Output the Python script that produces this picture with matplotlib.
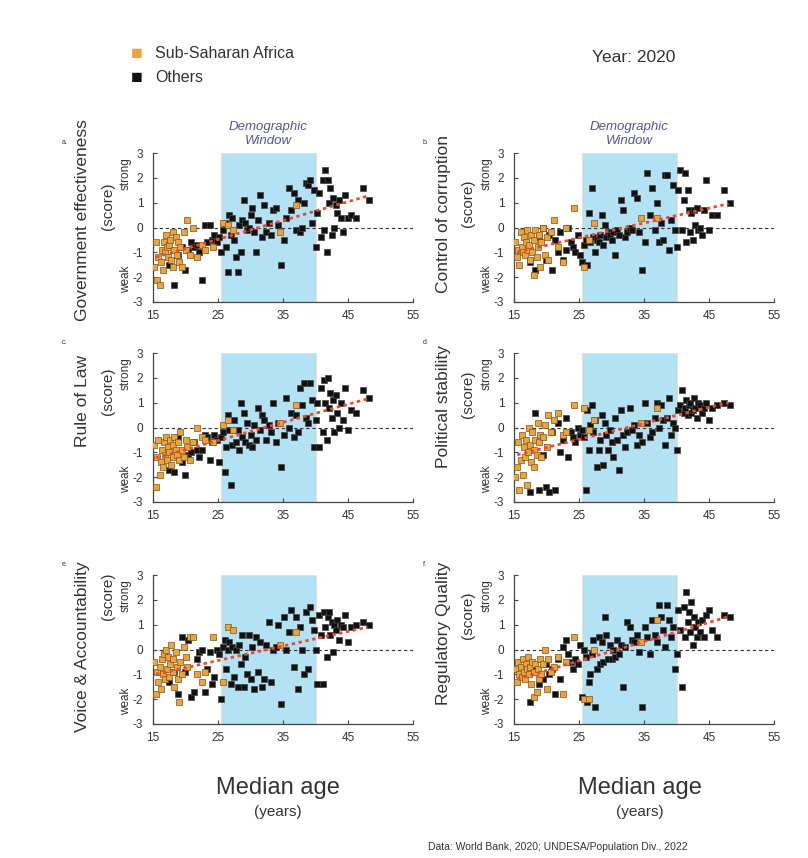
import numpy as np
import matplotlib
matplotlib.use("Agg")
import matplotlib.pyplot as plt

plt.rcParams["font.family"] = ["Liberation Sans", "DejaVu Sans"]
plt.rcParams["axes.unicode_minus"] = False

# ---- data (approximate) ----
AGE_SSA = [15.1, 15.5, 15.6, 15.8, 16.0, 16.2, 16.4, 16.5, 16.7, 16.8, 17.0, 17.1, 17.3,
           17.5, 17.6, 17.8, 18.0, 18.1, 18.3, 18.5, 18.7, 18.9, 19.0, 19.2, 19.5, 19.8,
           20.0, 20.3, 20.7, 21.2, 21.8, 22.5, 23.0, 24.3, 25.8, 26.5, 27.3, 34.5, 37.0]

AGE_OTHERS = [17.5, 18.2, 18.9, 19.4, 19.9, 20.4, 20.9, 21.3, 21.7, 22.1, 22.6, 23.0, 23.3,
              23.7, 24.0, 24.4, 24.8, 25.1, 25.4, 25.7, 26.0, 26.2, 26.5, 26.7, 27.0, 27.2,
              27.5, 27.7, 28.0, 28.2, 28.5, 28.7, 29.0, 29.2, 29.5, 29.8, 30.0, 30.3, 30.6,
              30.9, 31.2, 31.5, 31.8, 32.1, 32.4, 32.8, 33.1, 33.5, 33.9, 34.3, 34.7, 35.1,
              35.5, 35.9, 36.3, 36.7, 37.0, 37.3, 37.6, 37.9, 38.2, 38.5, 38.8, 39.1, 39.4,
              39.7, 40.0, 40.3, 40.6, 40.9, 41.1, 41.3, 41.5, 41.7, 41.9, 42.1, 42.3, 42.5,
              42.7, 42.9, 43.1, 43.3, 43.6, 43.9, 44.2, 44.6, 45.0, 45.5, 46.3, 47.3, 48.2]

GOV_SSA = [-1.6, -0.6, -2.1, -1.2, -2.3, -1.4, -0.9, -1.7, -0.6, -1.0, -0.3, -0.8, -1.2,
           -0.7, -0.5, -1.3, -0.2, -1.6, -0.9, -0.4, -1.1, -0.6, -1.4, -0.8, -1.6, -0.2,
           -0.9, 0.3, -1.1, 0.0, -1.2, -0.7, -0.9, -0.8, 0.2, 0.1, -0.1, -0.2, 0.9]
GOV_OTHERS = [-1.5, -2.3, -1.1, -0.8, -1.7, -0.9, -0.6, -0.8, -0.7, -1.0, -2.1, 0.1, -0.6,
              0.1, -0.5, -0.3, -0.6, -0.4, -1.0, -0.1, 0.2, -0.8, -1.8, 0.5, -0.3, 0.4,
              -0.5, -1.2, -1.8, 0.1, -1.0, 0.3, 1.1, 0.2, -0.1, 0.0, 0.5, 0.8, -0.2,
              -1.0, 0.3, 1.3, -0.4, 0.9, -0.2, 0.2, -0.3, 0.7, 0.8, 0.1, -1.5, -0.5,
              0.4, 1.6, 0.7, 1.4, -0.1, 1.1, -0.2, 0.0, 1.0, 1.8, 1.7, 1.9, 0.2,
              1.5, -0.8, 0.6, 1.4, -0.4, 1.9, -0.1, 2.3, -1.0, 1.9, 1.0, 1.6, -0.3,
              1.2, 0.0, 0.9, 0.6, 1.1, 0.4, -0.2, 1.3, 0.4, 0.5, 0.4, 1.6, 1.1]

COR_SSA = [-0.6, -1.2, -0.9, -1.5, -0.2, -0.8, -1.0, -0.4, -1.1, -0.6, -0.1, -0.9, -0.7,
           -1.3, -0.3, -1.0, -1.9, -0.5, -0.1, -1.2, -0.8, -0.3, -1.6, -0.6, 0.0, -1.1,
           -0.4, -1.3, -0.2, 0.3, -0.8, -1.4, 0.0, 0.8, -1.6, -0.5, 0.2, 0.4, 0.4]
COR_OTHERS = [-1.4, -1.7, -0.4, 0.0, -1.3, -0.3, -1.7, -0.5, -1.0, -0.2, -1.3, -0.9, 0.0,
              -0.6, -0.8, -1.0, -0.3, -1.1, -1.4, -0.7, -0.5, -1.5, 0.6, -0.6, 1.6, -0.4,
              -1.0, -0.5, -0.6, -0.3, 0.5, -0.7, 0.1, -0.4, -0.2, -0.3, -0.5, -0.2, -1.1,
              -0.1, -0.3, 1.1, 0.7, -0.4, -0.2, 0.0, -0.1, 1.4, 1.2, -0.2, -1.7, -0.6,
              2.2, 0.5, 1.6, -0.1, 1.0, -0.6, 0.2, -0.5, 2.1, 2.1, -0.9, 0.3, 1.7,
              -0.1, -0.8, 1.5, 2.3, -0.1, 1.1, 2.2, -0.6, 1.5, 0.7, -0.2, 0.6, -0.5,
              0.7, 0.1, 0.8, -0.1, 0.0, -0.3, 0.7, 1.9, -0.1, 0.5, 0.5, 1.5, 1.0]

LAW_SSA = [-0.7, -2.4, -1.2, -0.5, -1.9, -1.4, -0.9, -1.6, -0.6, -1.1, -0.4, -1.3, -0.8,
           -1.0, -0.5, -1.5, -0.7, -1.2, -0.4, -0.9, -1.1, -0.6, -1.3, -0.2, -0.9, -1.2,
           -0.5, -0.8, -1.3, -0.6, 0.0, -0.4, -0.5, -0.6, 0.1, 0.3, -0.1, 0.2, 0.9]
LAW_OTHERS = [-1.7, -1.8, -0.4, -1.4, -1.9, -1.1, -1.0, -0.6, -0.9, -1.2, -0.9, -0.3, -0.4,
              -1.3, -0.6, -0.3, -0.5, -1.4, -0.4, -0.2, -1.8, -0.8, 0.5, -0.1, -2.3, -0.7,
              0.3, -0.6, -0.1, -0.9, 1.0, -0.4, 0.6, -0.6, 0.2, -0.7, -0.3, -0.8, 0.1,
              -0.5, 0.8, -0.1, 0.5, 0.3, -0.5, 0.1, -0.2, 1.0, -0.6, 0.2, -1.6, -0.3,
              1.2, 0.0, 0.6, -0.4, 0.5, -0.2, 1.6, 0.9, 1.8, 0.4, 0.2, 1.8, 1.1,
              -0.8, 0.3, 1.0, -0.8, 1.6, -0.2, 1.9, 1.0, -0.5, 2.0, 0.8, 1.4, 0.4,
              1.1, -0.2, 1.3, 0.6, 0.0, 1.0, 0.3, 1.6, -0.1, 0.7, 0.6, 1.5, 1.2]

STAB_SSA = [-2.0, -1.6, -0.6, -2.5, -1.3, -0.3, -1.9, -0.8, -1.2, -0.5, -2.3, -1.0, 0.0,
            -0.7, -1.4, -0.2, -0.9, -1.6, -0.5, -1.1, 0.2, -0.6, -0.3, -1.2, -0.4, 0.1,
            -0.8, 0.5, -0.2, 0.3, 0.6, -0.3, -0.2, 0.9, 0.8, -0.1, 0.3, 0.2, 0.8]
STAB_OTHERS = [-2.6, 0.6, -2.5, -1.1, -2.4, -2.6, -0.2, -2.5, 0.2, -1.0, -0.5, 0.4, -1.2,
               -0.2, -0.4, -0.6, 0.0, -0.3, -0.1, -0.4, -2.5, 0.7, -0.9, 0.1, 0.9, -0.2,
               0.3, -1.6, -0.9, -0.5, 0.5, -1.5, 0.2, -0.3, -0.9, -0.1, -0.6, -1.2, 0.4,
               -0.5, -1.7, 0.7, -0.3, -0.8, -0.2, 0.8, -0.1, 0.1, -0.7, -0.3, -0.6, 1.0,
               0.2, -0.4, -0.2, 0.4, 1.0, 0.0, 0.9, 0.3, -0.7, 0.4, 1.2, -0.3, 0.2,
               0.0, -0.9, 0.7, 0.9, 1.5, 0.6, 0.8, 1.1, 0.5, 0.9, 1.0, 0.6, 0.7,
               1.2, 0.8, 0.4, 1.0, 0.9, 0.6, 0.8, 1.0, 0.3, 0.8, 0.9, 1.0, 0.9]

VOICE_SSA = [-0.5, -1.8, -0.9, -1.3, -0.7, -1.6, -0.4, -1.0, -0.2, -1.2, 0.0, -0.8, -0.3,
             -1.1, -0.6, 0.2, -0.9, -0.4, -1.5, -0.1, -0.7, -1.2, -2.1, -0.5, -1.0, 0.1,
             -0.3, -0.7, 0.5, 0.5, -1.0, -1.3, -0.9, 0.5, -1.3, 0.9, 0.8, 0.2, 0.7]
VOICE_OTHERS = [-1.3, -0.9, -1.8, 0.5, -0.9, 0.4, -1.9, -1.7, -0.4, -0.1, 0.0, -1.7, -0.8,
                -0.1, -1.4, -1.1, 0.0, -0.2, -2.0, 0.1, 0.4, -0.8, 0.0, 0.3, -1.4, 0.1,
                -1.1, 0.0, -1.5, 0.2, -0.6, 0.6, -1.5, -0.3, -1.0, 0.6, -1.2, 0.1, -1.6,
                0.5, -0.9, 0.3, -1.5, -1.2, 0.2, 1.1, -1.3, 0.0, 0.1, 1.0, -2.2, 1.3,
                0.0, 0.7, 1.6, -0.7, 1.3, -1.6, 0.9, 0.0, -1.0, 1.5, -0.8, 1.7, 1.2,
                0.8, 0.0, -1.4, 1.4, 0.6, -1.4, 1.5, 0.9, -0.3, 1.3, 1.5, 0.6, 1.1,
                -0.1, 1.0, 0.8, 1.2, 0.4, 1.0, 0.9, 1.4, 0.3, 0.9, 1.0, 1.1, 1.0]

REG_SSA = [-0.8, -1.3, -0.5, -1.0, -0.7, -1.1, -0.4, -0.9, -1.2, -0.6, -0.8, -0.3, -1.0,
           -0.7, -1.4, -0.5, -1.9, -0.9, -0.6, -1.7, -0.8, -1.2, -0.4, -1.0, -0.6, 0.0,
           -1.6, -0.4, -0.9, -0.7, -0.3, -1.8, -0.5, 0.5, -2.0, -2.0, 0.0, 0.3, 1.2]
REG_OTHERS = [-2.1, -0.8, -1.4, -1.2, -0.6, -1.0, -0.8, -1.8, -0.4, -1.2, 0.1, 0.4, -0.2,
              -0.5, -0.8, -0.4, -0.6, 0.2, -1.9, 0.0, -0.3, -2.1, -1.3, -1.0, -0.2, 0.4,
              -2.3, -0.8, 0.5, -0.6, 0.3, -0.5, 1.3, 0.6, -0.4, 0.2, -0.4, 0.0, -0.3,
              0.4, -0.2, 0.2, -1.5, 0.1, 1.1, 0.9, 0.4, 0.3, 0.6, -0.1, -2.3, 0.9,
              0.5, -0.2, 1.2, 0.6, 0.3, 1.8, 1.3, 0.8, 0.1, 1.8, 1.2, 0.5, 0.9,
              -0.8, -0.2, 1.6, 0.8, -1.5, 1.7, 0.5, 2.3, 1.1, 1.5, 0.7, 1.9, 0.2,
              1.3, 0.9, 0.5, 1.1, 0.7, 1.2, 0.5, 1.4, 1.6, 0.8, 0.5, 1.4, 1.3]

# (letter, y-label, ssa scores, other scores, label centre, "(score)" centre) per panel
PANELS = [
    ("a.", "Government effectiveness", GOV_SSA, GOV_OTHERS, 0.55, 0.64),
    ("b.", "Control of corruption", COR_SSA, COR_OTHERS, 0.59, 0.66),
    ("c.", "Rule of Law", LAW_SSA, LAW_OTHERS, 0.68, 0.74),
    ("d.", "Political stability", STAB_SSA, STAB_OTHERS, 0.64, 0.72),
    ("e.", "Voice & Accountability", VOICE_SSA, VOICE_OTHERS, 0.52, 0.86),
    ("f.", "Regulatory Quality", REG_SSA, REG_OTHERS, 0.61, 0.73),
]

WINDOW = (25.5, 40.0)
SSA_COLOR = "#eda33a"
OTHER_COLOR = "#111111"
TEXT_COLOR = "#333333"

W, H = 808, 858
fig = plt.figure(figsize=(W / 100, H / 100), dpi=100)
fig.patch.set_facecolor("white")

col_left = [153, 514]
row_bottom = [302, 502, 724]
ax_w, ax_h = 260, 149

for i, (letter, label, ssa, others, lab_y, score_y) in enumerate(PANELS):
    r, c = divmod(i, 2)
    left = col_left[c]
    bottom = row_bottom[r]
    ax = fig.add_axes([left / W, (H - bottom) / H, ax_w / W, ax_h / H])

    ax.axvspan(*WINDOW, color="#b3e2f4", ec="#f2dcc6", lw=0.6, zorder=0)
    ax.axhline(0, color="#333333", ls=(0, (3, 2.5)), lw=0.8, zorder=1)

    ax.scatter(AGE_OTHERS, others, marker="s", s=19, c=OTHER_COLOR,
               edgecolors="#444444", linewidths=0.5, zorder=2)
    ax.scatter(AGE_SSA, ssa, marker="s", s=19, c=SSA_COLOR,
               edgecolors="#7a5520", linewidths=0.5, zorder=3)

    # linear trend over all countries
    ages = np.array(AGE_SSA + AGE_OTHERS)
    scores = np.array(ssa + others)
    k, b = np.polyfit(ages, scores, 1)
    xs = np.array([15.5, 48.0])
    ax.plot(xs, k * xs + b, color="#f0482a", lw=2.0, ls=(0, (1.2, 1.3)), zorder=4)

    ax.set_xlim(15, 55)
    ax.set_ylim(-3, 3)
    ax.set_xticks([15, 25, 35, 45, 55])
    ax.set_yticks([-3, -2, -1, 0, 1, 2, 3])
    ax.tick_params(direction="in", length=3, width=0.8, colors="#444444",
                   labelsize=8.5, labelcolor=TEXT_COLOR)
    ax.tick_params(axis="x", pad=6)
    ax.tick_params(axis="y", pad=7)
    for side in ("top", "right"):
        ax.spines[side].set_visible(False)
    for side in ("left", "bottom"):
        ax.spines[side].set_color("#444444")
        ax.spines[side].set_linewidth(0.9)

    ax.text(-0.27, lab_y, label, transform=ax.transAxes, rotation=90,
            ha="center", va="center", fontsize=12.5, color=TEXT_COLOR)
    ax.text(-0.175, score_y, "(score)", transform=ax.transAxes, rotation=90,
            ha="center", va="center", fontsize=11, color=TEXT_COLOR)
    ax.text(-0.105, 0.86, "strong", transform=ax.transAxes, rotation=90,
            ha="center", va="center", fontsize=8.5, color=TEXT_COLOR)
    ax.text(-0.105, 0.15, "weak", transform=ax.transAxes, rotation=90,
            ha="center", va="center", fontsize=8.5, color=TEXT_COLOR)
    ax.text(-0.35, 1.07, letter, transform=ax.transAxes,
            ha="left", va="center", fontsize=5, color=TEXT_COLOR)

    if r == 0:
        ax.text(sum(WINDOW) / 2, 3.25, "Demographic\nWindow", ha="center", va="bottom",
                fontsize=9.5, style="italic", color="#55559a", linespacing=1.25)

# legend
fig.text(137 / W, 1 - 55 / H, "\u25a0", color=SSA_COLOR, fontsize=14,
         ha="center", va="center")
fig.text(155 / W, 1 - 54 / H, "Sub-Saharan Africa", fontsize=11.5,
         color=TEXT_COLOR, ha="left", va="center")
fig.text(137 / W, 1 - 79 / H, "\u25a0", color=OTHER_COLOR, fontsize=14,
         ha="center", va="center")
fig.text(155 / W, 1 - 78 / H, "Others", fontsize=11.5,
         color=TEXT_COLOR, ha="left", va="center")

fig.text(634 / W, 1 - 57 / H, "Year: 2020", fontsize=12.5, color=TEXT_COLOR,
         ha="center", va="center")

for cx in (278, 640):
    fig.text(cx / W, 1 - 788 / H, "Median age", fontsize=17, color=TEXT_COLOR,
             ha="center", va="center")
    fig.text(cx / W, 1 - 812 / H, "(years)", fontsize=11, color=TEXT_COLOR,
             ha="center", va="center")

fig.text(428 / W, 1 - 847 / H, "Data: World Bank, 2020; UNDESA/Population Div., 2022",
         fontsize=7.5, color=TEXT_COLOR, ha="left", va="center")

fig.savefig("out.png", dpi=100, facecolor="white")
